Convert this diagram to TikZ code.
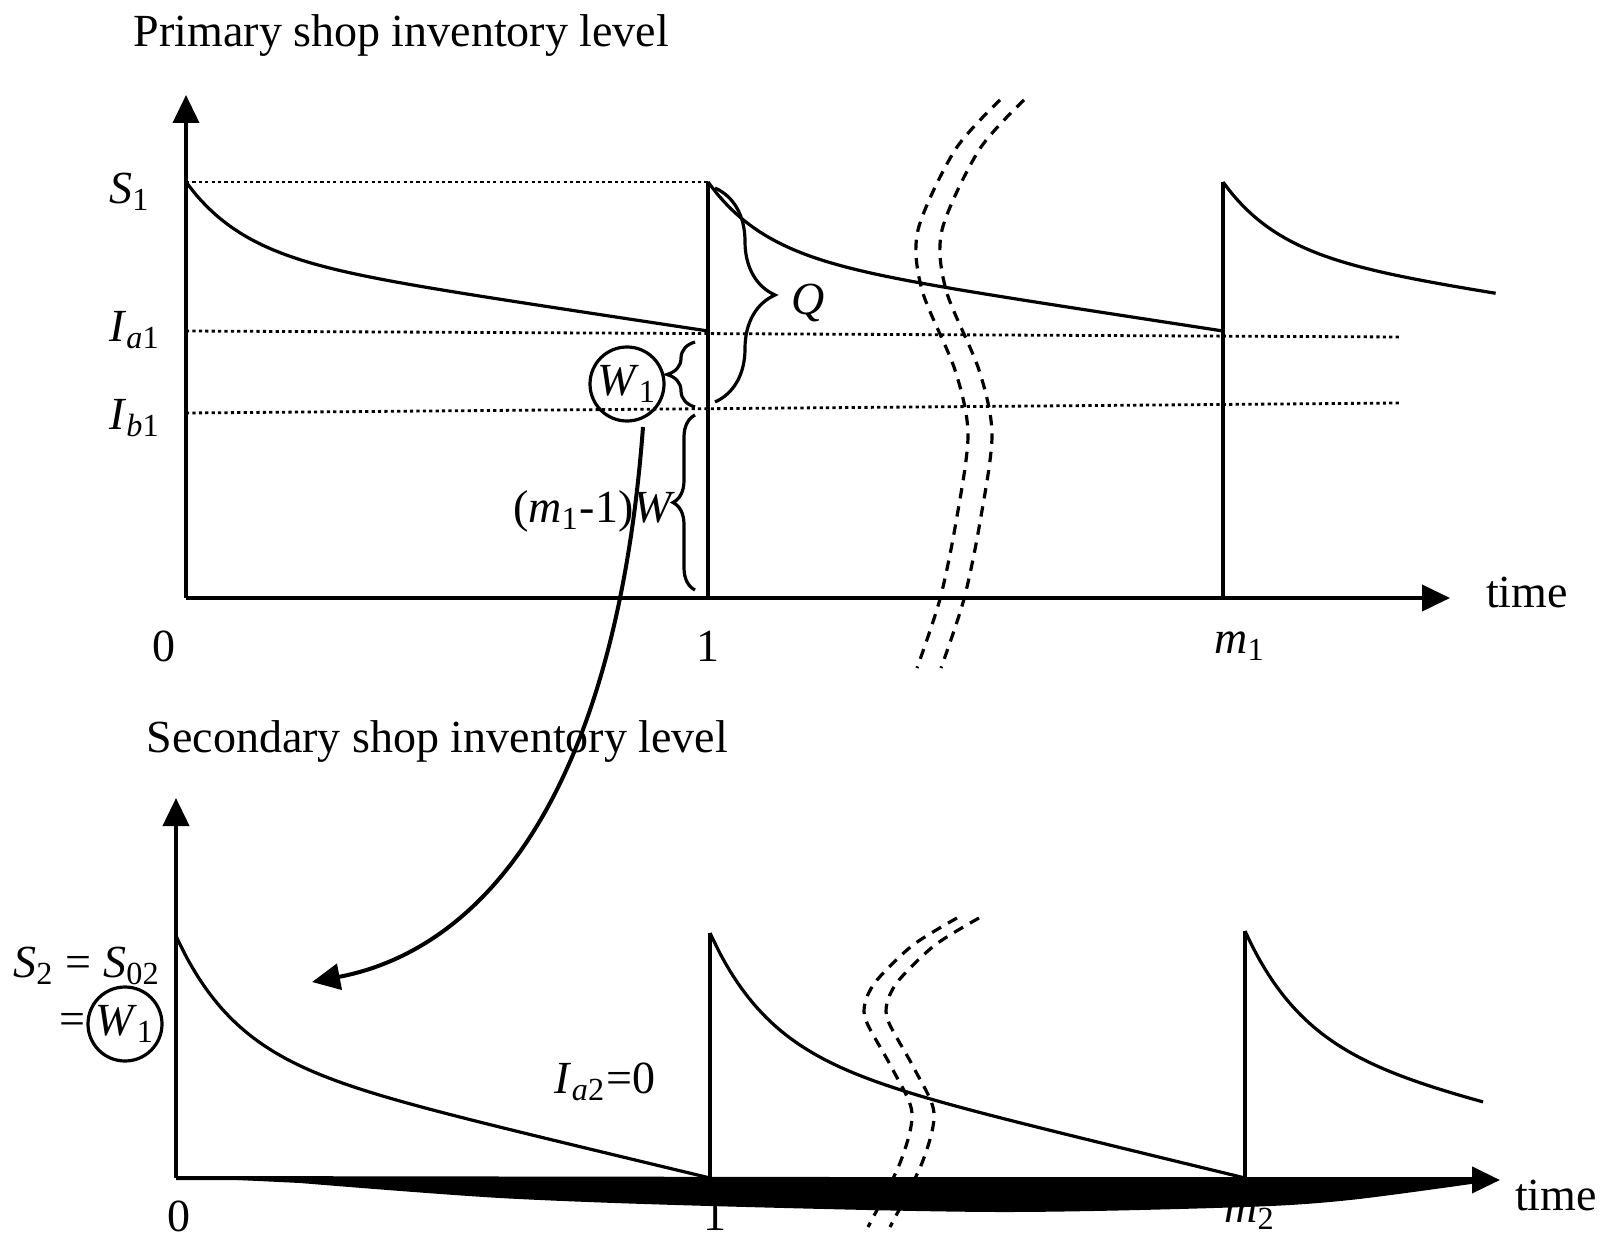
\documentclass[tikz,border=0pt]{standalone}
\usepackage{fontspec}
\setmainfont{Liberation Serif}
\usetikzlibrary{arrows.meta,decorations.pathreplacing}
\tikzset{
  fx/.style={x=0.25pt, y=-0.25pt, font=\fontsize{11.5}{13}\selectfont},
  i axis/.style={line width=1pt, -{Triangle[length=7pt,width=6.5pt]}},
  i curve/.style={line width=0.8pt},
  i jump/.style={line width=0.9pt},
  i level/.style={line width=0.7pt, dash pattern=on 0.8pt off 0.8pt},
  i break/.style={line width=0.8pt, dash pattern=on 2.6pt off 2pt},
  i brace/.style={decorate, decoration={brace, amplitude=#1}, line width=0.8pt},
  i ring/.style={circle, draw, line width=0.8pt, minimum size=18.5pt, inner sep=0pt},
  i lab/.style={inner sep=0pt},
  i hand/.style={line width=1pt, -{Triangle[length=7pt,width=6.5pt]}},
}
% decaying stock: x0, top, period width, drop, part of period
\newcommand{\invcurve}[5]{%
  \draw[i curve] plot[domain=0:#5, samples=50, smooth]
    ({#1+#3*\x},{#2+#4*(0.47*(1-exp(-\x/0.11))+0.53*\x)});}

\begin{document}
\begin{tikzpicture}[fx]
\useasboundingbox (0,0) rectangle (1604,1240);
% ---- primary shop ----
\node[i lab, anchor=west] (ttl1) at (133,36) {Primary shop inventory level};
\draw[i level] (186,182) -- (708,182);
\draw[i level] (186,331) -- (1400,337);
\draw[i level] (186,413) -- (1400,403);
\invcurve{186}{182}{522}{149}{1}
\invcurve{708}{182}{515}{149}{1}
\invcurve{1223}{182}{515}{149}{0.53}
\draw[i jump] (708,598) -- (708,182);
\draw[i jump] (1223,598) -- (1223,182);
\draw[i axis] (186,598) -- (186,95);
\draw[i axis] (186,598) -- (1450,598);
\node[i lab] (s1) at (130,192) {\textit{S}\textsubscript{1}};
\node[i lab] (ia1) at (135,330) {\textit{I}\textsubscript{\textit{a}1}};
\node[i lab] (ib1) at (135,418) {\textit{I}\textsubscript{\textit{b}1}};
\node[i lab] (t0a) at (164,646) {0};
\node[i lab] (t1a) at (708,646) {1};
\node[i lab] (tma) at (1240,646) {\textit{m}\textsubscript{1}};
\node[i lab] (time1) at (1527,592) {time};
% braces
\draw[i brace=15pt] (715,188) -- (715,402);
\node[i lab] (q) at (808,303) {\textit{Q}};
\draw[i brace=7pt] (695,407) -- (695,342);
\node[i ring] (w1a) at (627,384) {\textit{W}\textsubscript{1}};
\draw[i brace=5.5pt] (695,590) -- (695,415);
\node[i lab, anchor=east] (mw) at (676,511) {(\textit{m}\textsubscript{1}-1)\textit{W}};
% breaks
\foreach \dx in {0,24}
  \draw[i break, xshift=\dx*0.25pt] plot[smooth] coordinates {(1000,100) (955,150) (918,230) (922,290) (955,370) (968,435) (956,522) (940,599) (917,668)};
% ---- secondary shop ----
\node[i lab, anchor=west] (ttl2) at (146,741) {Secondary shop inventory level};
\node[i lab] (t0b) at (179,1216) {0};
\node[i lab] (t1b) at (715,1215) {1};
\node[i lab] (tmb) at (1250,1215) {\textit{m}\textsubscript{2}};
\fill (176,1177) -- plot[smooth] coordinates {(300,1183) (500,1198) (710,1206) (1000,1212) (1245,1207) (1350,1200) (1478,1183)} -- (1478,1177) -- cycle;
\invcurve{176}{936}{534}{242}{1}
\invcurve{710}{933}{535}{245}{1}
\invcurve{1245}{931}{535}{245}{0.445}
\draw[i jump] (710,1178) -- (710,933);
\draw[i jump] (1245,1178) -- (1245,931);
\draw[i axis] (176,1178) -- (176,798);
\draw[i axis] (176,1178) -- (1500,1180);
\node[i lab] (time2) at (1556,1195) {time};
\node[i lab] (s2) at (87,966) {\textit{S}\textsubscript{2} = \textit{S}\textsubscript{02}};
\node[i ring] (w1b) at (125,1024) {\textit{W}\textsubscript{1}};
\node[i lab, anchor=east] (eq) at (w1b.west) {=};
\node[i lab] (ia2) at (605,1082) {\textit{I}\textsubscript{\textit{a}2}=0};
\foreach \dx in {0,22}
  \draw[i break, xshift=\dx*0.25pt] plot[smooth] coordinates {(957,918) (913,945) (877,980) (865,1003) (867,1023) (893,1070) (912,1113) (900,1163) (868,1227)};
% ---- hand-over ----
\coordinate (hs) at (643,427);
\coordinate (he) at (312,982);
\draw[i hand] (hs) .. controls (615,800) and (480,950) .. (he);
\end{tikzpicture}
\end{document}
